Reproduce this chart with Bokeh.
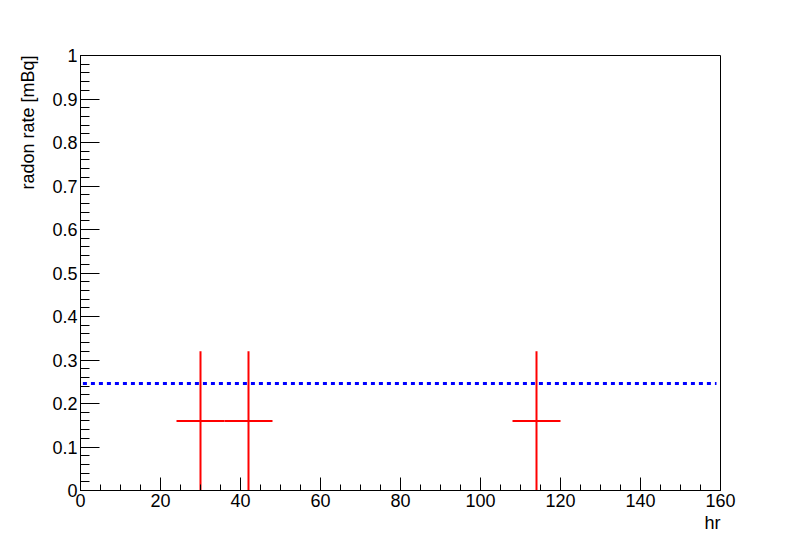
from bokeh.plotting import figure
from bokeh.models import Range1d, FixedTicker, ColumnDataSource, Title
from bokeh.embed import file_html
from bokeh.resources import INLINE

# data
run_hours = [30, 42, 114]
radon_rate = [0.16, 0.16, 0.16]
hour_err = [6, 6, 6]
rate_err = [0.16, 0.16, 0.16]
fit_x = [0.6, 159.0]
fit_y = [0.246, 0.246]

x_major = [0, 20, 40, 60, 80, 100, 120, 140, 160]
x_minor = [i * 5 for i in range(33)]
y_major = [0, 0.1, 0.2, 0.3, 0.4, 0.5, 0.6, 0.7, 0.8, 0.9, 1.0]
y_minor = [round(i * 0.02, 2) for i in range(51)]
y_labels = {0: "0", 0.1: "0.1", 0.2: "0.2", 0.3: "0.3", 0.4: "0.4", 0.5: "0.5",
            0.6: "0.6", 0.7: "0.7", 0.8: "0.8", 0.9: "0.9", 1.0: "1"}
x_title = "hr"
y_title = "radon rate [mBq]"

FONT = "Liberation Sans"
FS = "18px"

p = figure(width=800, height=545, output_backend="svg", toolbar_location=None,
           x_range=Range1d(0, 160), y_range=Range1d(0, 1),
           min_border_left=80, min_border_right=80, min_border_top=55, min_border_bottom=55)
p.grid.visible = False
p.outline_line_color = "black"
p.outline_line_width = 1
p.background_fill_color = "white"
p.border_fill_color = "white"

src = ColumnDataSource(dict(
    x=run_hours, y=radon_rate,
    x0=[a - b for a, b in zip(run_hours, hour_err)],
    x1=[a + b for a, b in zip(run_hours, hour_err)],
    y0=[a - b for a, b in zip(radon_rate, rate_err)],
    y1=[a + b for a, b in zip(radon_rate, rate_err)],
))

p.line(fit_x, fit_y, line_color="#0000ff", line_width=3, line_dash="4 4")
p.segment(x0="x0", y0="y", x1="x1", y1="y", source=src, line_color="#ff0000", line_width=2)
p.segment(x0="x", y0="y0", x1="x", y1="y1", source=src, line_color="#ff0000", line_width=2)

xa = p.xaxis[0]
xa.ticker = FixedTicker(ticks=x_major, minor_ticks=x_minor)
xa.major_tick_in = 13
xa.major_tick_out = 0
xa.minor_tick_in = 6
xa.minor_tick_out = 0

ya = p.yaxis[0]
ya.ticker = FixedTicker(ticks=y_major, minor_ticks=y_minor)
ya.major_label_overrides = y_labels
ya.major_tick_in = 19
ya.major_tick_out = 0
ya.minor_tick_in = 9
ya.minor_tick_out = 0

for ax in (xa, ya):
    ax.axis_line_color = "black"
    ax.major_tick_line_color = "black"
    ax.minor_tick_line_color = "black"
    ax.major_label_text_font = FONT
    ax.major_label_text_font_size = FS
    ax.major_label_text_color = "black"

xa.major_label_standoff = 3
ya.major_label_standoff = 3

# axis titles placed ROOT-style at the end of each axis
p.add_layout(Title(text=x_title, align="right", text_font=FONT, text_font_size=FS,
                   text_font_style="normal", text_color="black", standoff=3, offset=0), "below")
p.add_layout(Title(text=y_title, align="right", text_font=FONT, text_font_size=FS,
                   text_font_style="normal", text_color="black", standoff=23, offset=0), "left")

open("out.html", "w").write(file_html(p, INLINE))
